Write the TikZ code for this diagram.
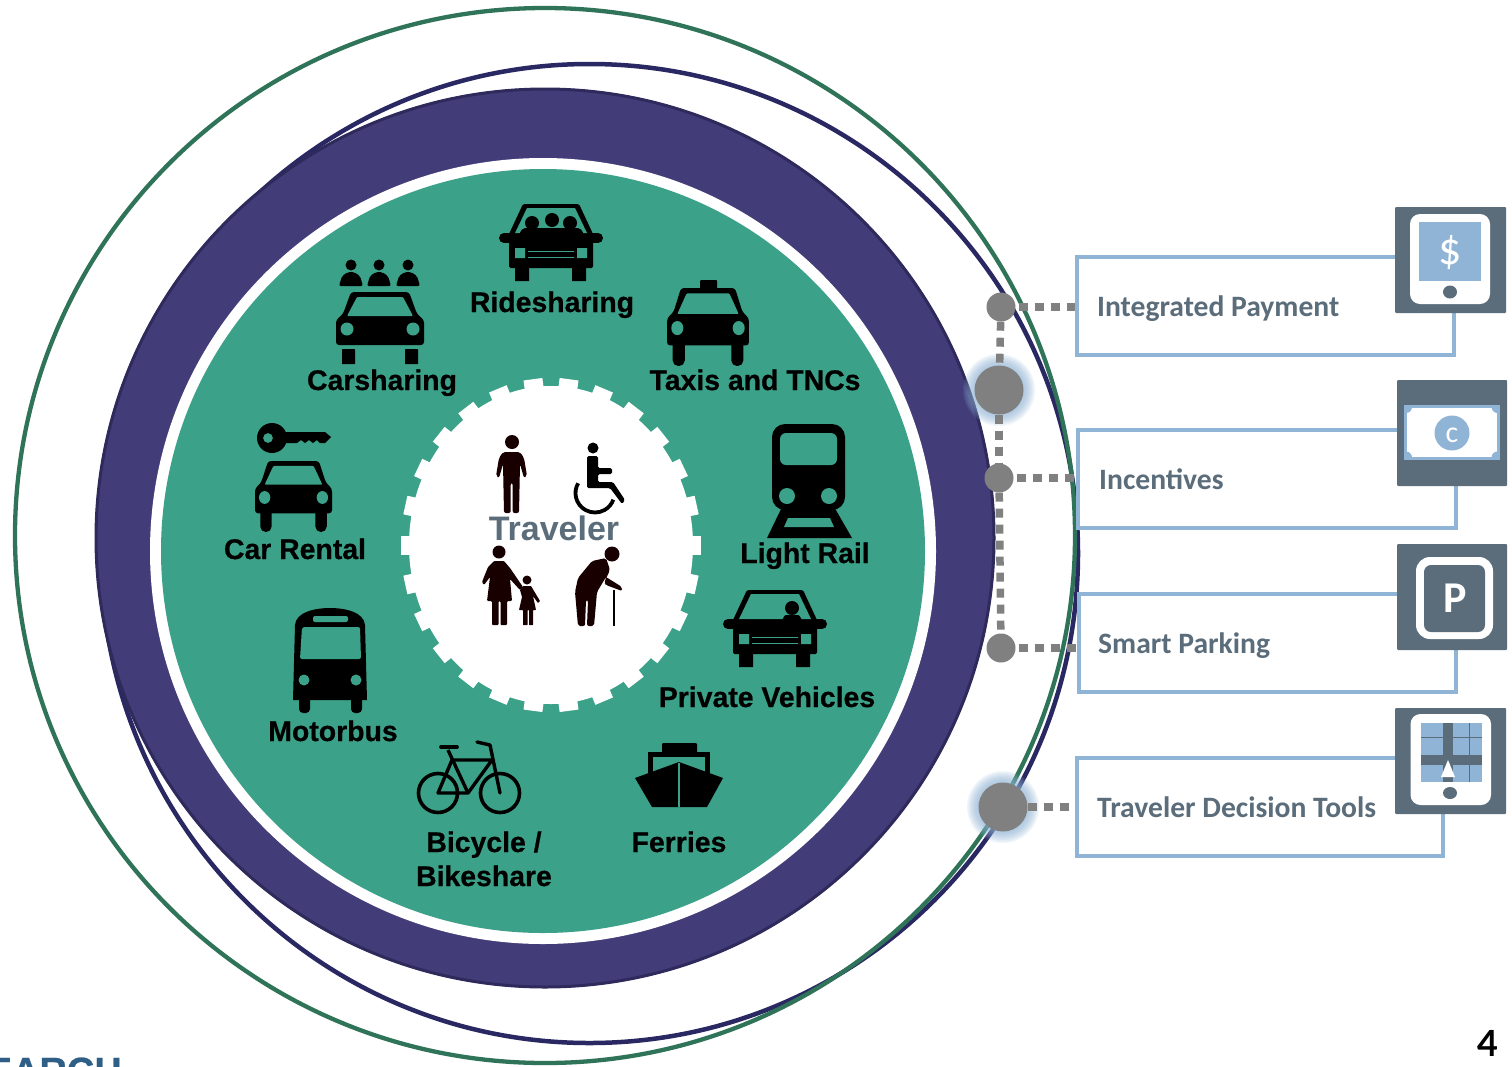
\documentclass[tikz,border=0pt]{standalone}
\usepackage{fontspec}
\setmainfont{Liberation Sans}
\newfontfamily\labfont{Liberation Sans}[BoldFeatures={FakeBold=0.6}]
\newfontfamily\boxfont{Carlito}
\newfontfamily\pagefont{Lato}
\definecolor{teal}{HTML}{3BA188}
\definecolor{purp}{HTML}{423D78}
\definecolor{purpdk}{HTML}{2E2A5C}
\definecolor{navyr}{HTML}{2A2862}
\definecolor{greenr}{HTML}{2F7458}
\definecolor{slate}{HTML}{5B6D7B}
\definecolor{skyb}{HTML}{8FB4D6}
\definecolor{dotg}{HTML}{808080}
\definecolor{logob}{HTML}{2F5F86}
\newcommand{\myCarRound}[6]{% cx, top, xscale, yscale, wheel radius, wheel top
\begin{scope}[shift={(#1,#2)},xscale=#3,yscale=#4]
 \fill[black,rounded corners=3pt] (-29,0)--(29,0)--(37,22)--(44,28)--(44,53)--(-44,53)--(-44,28)--(-37,22)--cycle;
 \fill[black,rounded corners=#5pt] (-38,#6)rectangle(-25,72);
 \fill[black,rounded corners=#5pt] (25,#6)rectangle(38,72);
 \fill[teal,rounded corners=1pt] (-23,5)--(23,5)--(33,24)--(-33,24)--cycle;
 \fill[teal] (-33,37) circle[radius=6.5] (33,37) circle[radius=6.5];
\end{scope}}
\newcommand{\myCarMirror}[2]{% cx, top ; 104 wide, 77 high
\begin{scope}[shift={(#1,#2)}]
 \fill[black,rounded corners=1.5pt] (-28,0)--(28,0)--(42,30)--(42,64)--(-42,64)--(-42,30)--cycle;
 \draw[black,line width=10pt,line cap=round] (-47,34)--(47,34);
 \fill[black] (-36,60)rectangle(-22,77) (21,60)rectangle(35,77);
 \fill[teal] (-24,4)--(24,4)--(36,29)--(-36,29)--cycle;
 \fill[teal] (-36,44)rectangle(-26,54) (26,44)rectangle(36,54);
 \draw[teal,line width=1.4pt] (-23,47.5)--(23,47.5) (-23,53.5)--(23,53.5);
\end{scope}}
\newcommand{\myBust}[2]{% head centre
\fill[black] (#1,#2) circle[radius=5.5];
\fill[black,rounded corners=2pt] ($(#1,#2)+(-12,21)$)--($(#1,#2)+(-9,11)$)--($(#1,#2)+(-3,7)$)--($(#1,#2)+(3,7)$)--($(#1,#2)+(9,11)$)--($(#1,#2)+(12,21)$)--cycle;}
\usetikzlibrary{calc}
\tikzset{
 x=1pt,y=-1pt,
 lab/.style={inner sep=0pt,anchor=base,font=\labfont\fontsize{28.4}{28.4}\selectfont\bfseries,text=black},
 boxst/.style={draw=skyb,line width=3.2pt,fill=white,rectangle,inner sep=0pt},
 boxlab/.style={inner sep=0pt,anchor=base west,font=\boxfont\fontsize{29.6}{29.6}\selectfont\bfseries,text=slate},
 iconsq/.style={fill=slate,draw=none,rectangle,rounded corners=1pt,inner sep=0pt},
 dotsm/.style={circle,fill=dotg,draw=none,minimum size=29pt,inner sep=0pt},
 dotbig/.style={circle,fill=dotg,draw=none,minimum size=49pt,inner sep=0pt},
 conn/.style={draw=dotg,line width=7.5pt,dash pattern=on 9pt off 7pt},
 glow/.style={fill=skyb,opacity=0.13},
}
\begin{document}
\begin{tikzpicture}
\useasboundingbox (0,0) rectangle (1512,1066);
\fill[white] (0,0) rectangle (1512,1066);
% big rings
\draw[navyr,line width=4.5pt] (589.5,553.5) ellipse[x radius=488.5,y radius=489.5];
\draw[greenr,line width=4.3pt] (545,535.5) ellipse[x radius=530,y radius=527.5];
\fill[purp] (545,538) circle[radius=450];
\draw[purpdk,line width=3pt] (545,538) circle[radius=449];
\fill[white] (543,551) circle[radius=393];
\fill[teal] (543,551) circle[radius=382];
% gear
\fill[white] (551,545) ellipse[x radius=142,y radius=159];
\foreach \i in {0,...,25}{
 \pgfmathsetmacro\ang{\i*360/26}
 \pgfmathsetmacro\px{551+150*cos(\ang)}
 \pgfmathsetmacro\py{545-167*sin(\ang)}
 \pgfmathsetmacro\nrm{atan2(sin(\ang)/167,cos(\ang)/150)}
 \fill[white,shift={(\px,\py)},rotate=\nrm] (-14,-9.5) rectangle (0,9.5);
}
% ---- transport icons
\myCarMirror{551}{204}
\fill[black] (532,223) circle[radius=7] (552,220) circle[radius=7] (570,223) circle[radius=7];
\fill[black,rounded corners=2pt] (519,234)--(523,228)--(580,228)--(584,234)--cycle;
\myCarMirror{775}{590}
\fill[black] (792,608) circle[radius=7];
\fill[black,rounded corners=1pt] (782,620)--(785,615)--(799,615)--(802,620)--cycle;
% carsharing
\myCarRound{380}{292}{1}{1}{0.5}{57}
\myBust{351}{265}\myBust{379}{265}\myBust{408}{265}
% car rental
\myCarRound{293.5}{461}{0.875}{0.986}{5.5}{45}
\fill[black,even odd rule] (272,438) circle[radius=15] (268,438) circle[radius=5];
\fill[black] (284,432)--(325,432)--(331,437)--(325,443)--(320,443)--(317,440)--(313,443)--(309,440)--(305,443)--(301,440)--(297,443)--(284,443)--cycle;
% taxi
\myCarRound{708}{288}{0.93}{1.083}{5.5}{45}
\fill[black,rounded corners=1pt] (700,280) rectangle (717,292);
% light rail
\fill[black] (783,505)--(833,505)--(852,538)--(767,538)--cycle;
\fill[teal] (788,518)--(830,518)--(834,527)--(784,527)--cycle;
\fill[black,rounded corners=13pt] (772,424) rectangle (845,510);
\fill[teal,rounded corners=6pt] (780,433) rectangle (837,465);
\fill[teal] (787,496) circle[radius=8] (829,496) circle[radius=8];
% motorbus
\fill[black,rounded corners=4pt] (299,695) rectangle (310,713);
\fill[black,rounded corners=4pt] (351,695) rectangle (362,713);
\fill[black] (293,700)--(295,625).. controls (296,612) and (315,608) .. (330,608).. controls (345,608) and (364,612) .. (365,625)--(367,700)--cycle;
\fill[teal,rounded corners=2pt] (302,627)--(360,627)--(361,659)--(300,659)--cycle;
\fill[teal,rounded corners=2pt] (313,616) rectangle (348,622);
\fill[teal] (304,680) circle[radius=5.5] (356,680) circle[radius=5.5];
% bicycle
\draw[black,line width=3.6pt] (438,793) circle[radius=19.5] (500,793) circle[radius=19.5];
\draw[black,line width=3.4pt,line join=round] (438,793)--(452,760)--(492,760)--(468,793)--cycle;
\draw[black,line width=3.4pt] (448,750)--(468,793);
\draw[black,line width=3.4pt,line cap=round] (490,745)--(500,793);
\draw[black,line width=3.8pt,line cap=round] (441,747)--(457,747);
\draw[black,line width=3.4pt,line cap=round] (477,742)--(490,745);
% ferry
\fill[black,rounded corners=1pt] (662,743) rectangle (697,754);
\fill[black] (648,752) rectangle (710,780);
\fill[teal] (653,757) rectangle (705,780);
\fill[black] (635,778)--(679,762)--(723,778)--(707,807)--(652,807)--cycle;
\draw[teal,line width=1.1pt] (679,763)--(679,807);
% ---- people
% man
\fill[black!90!red] (512,442) circle[radius=7];
\fill[black!90!red,rounded corners=2pt] (503,452)--(520,452)--(524,458)--(527,476)--(524,478)--(520,464)--(519,513)--(512.7,513)--(512.7,483)--(510.7,483)--(510.7,513)--(504,513)--(503,464)--(499,478)--(496,476)--(499,458)--cycle;
% wheelchair
\fill[black] (593,448) circle[radius=5.5];
\draw[black,line width=3.8pt] (595,493) ++(210:19.5) arc[start angle=210,end angle=20,radius=19.5];
\fill[black,rounded corners=1.5pt] (587,456)--(598,456)--(598,468)--(612,468)--(612,474)--(598,474)--(598,482)--(613,482)--(625,500)--(622,504)--(610,488)--(587,488)--cycle;
% mother + child
\fill[black!90!red] (499,552) circle[radius=6.5];
\fill[black!90!red,rounded corners=1pt] (494,561)--(504,561)--(510,568)--(523,587)--(520,590)--(510,579)--(512,601)--(507,601)--(507,625)--(500.5,625)--(500.5,601)--(498.5,601)--(498.5,625)--(492,625)--(492,601)--(487,601)--(490,577)--(484,585)--(482,582)--(488,567)--cycle;
\fill[black!90!red] (527,580) circle[radius=4.5];
\fill[black!90!red,rounded corners=0.5pt] (523,586)--(531,586)--(540,601)--(538,603)--(533,596)--(536,610)--(533,610)--(533,625)--(529,625)--(529,610)--(527.5,610)--(527.5,625)--(523,625)--(523,610)--(519,610)--(522,597)--(520,590)--cycle;
% elder
\fill[black!90!red] (612,554) circle[radius=7.5];
\fill[black!90!red,rounded corners=2pt] (606,558)--(592,561)--(578,578)--(575,592)--(578,626)--(585,626)--(586,600)--(588,600)--(587,626)--(594,626)--(597,592)--(606,577)--(622,587)--(622,591)--(606,585)--(604,583)--(610,570)--cycle;
\draw[black,line width=1.5pt] (614,590)--(614,626);
% ---- labels
\node[lab] (nRide) at (552,312) {Ridesharing};
\node[lab] (nCar)  at (382,390) {Carsharing};
\node[lab] (nTaxi) at (755,390) {Taxis and TNCs};
\node[lab] (nRent) at (295,559) {Car Rental};
\node[lab] (nRail) at (805,563) {Light Rail};
\node[lab] (nPriv) at (767,707) {Private Vehicles};
\node[lab] (nBus)  at (333,741) {Motorbus};
\node[lab] (nBik1) at (484,852) {Bicycle /};
\node[lab] (nBik2) at (484,886) {Bikeshare};
\node[lab] (nFerr) at (679,852) {Ferries};
\node[inner sep=0pt,font=\fontsize{34}{34}\selectfont\bfseries,text=slate] (nTrav) at (554,528) {Traveler};
% ---- right boxes
\node[boxst,minimum width=377pt,minimum height=98pt] (b1) at (1265.5,306) {};
\node[boxst,minimum width=378pt,minimum height=98pt] (b2) at (1267,479) {};
\node[boxst,minimum width=377pt,minimum height=98pt] (b3) at (1267.5,643) {};
\node[boxst,minimum width=366pt,minimum height=98pt] (b4) at (1260,807) {};
\node[boxlab] (t1) at (1097,316) {Integrated Payment};
\node[boxlab] (t2) at (1099,489) {Incentives};
\node[boxlab] (t3) at (1098,653) {Smart Parking};
\node[boxlab] (t4) at (1097,817) {Traveler Decision Tools};
% icon 1
\node[iconsq,minimum width=111pt,minimum height=106pt] (i1) at (1450.5,260) {};
\fill[white,rounded corners=10pt] (1410,214) rectangle (1490,304);
\fill[skyb] (1419,222) rectangle (1481,281);
\fill[slate] (1450,292) ellipse[x radius=7,y radius=6.5];
\node[inner sep=0pt,text=white,font=\boxfont\fontsize{46}{46}\selectfont] (s1) at (1450,253) {\$};
% icon 2
\node[iconsq,minimum width=110pt,minimum height=106pt] (i2) at (1452,433) {};
\fill[skyb] (1404,405) rectangle (1499.5,460);
\begin{scope}
\clip (1406.5,407.5) rectangle (1497,456.5);
\fill[white] (1406.5,407.5) rectangle (1497,456.5);
\fill[skyb] (1406,407) circle[radius=6] (1497.5,407) circle[radius=6] (1406,457.5) circle[radius=6] (1497.5,457.5) circle[radius=6];
\end{scope}
\fill[skyb] (1452,433) circle[radius=17.5];
\node[inner sep=0pt,text=white,font=\boxfont\fontsize{30}{30}\selectfont] (s2) at (1452,435) {c};
% icon 3
\node[iconsq,minimum width=110pt,minimum height=106pt] (i3) at (1452,597) {};
\fill[white,rounded corners=14pt] (1416,557) rectangle (1493,639);
\fill[slate,rounded corners=7pt] (1424,565) rectangle (1485,632);
\node[inner sep=0pt,text=white,font=\boxfont\fontsize{44}{44}\selectfont\bfseries] (s3) at (1455,598) {P};
% icon 4
\node[iconsq,minimum width=111pt,minimum height=106pt] (i4) at (1450.5,761) {};
\fill[white,rounded corners=10pt] (1410.5,714) rectangle (1491,805);
\fill[skyb] (1421,723) rectangle (1481.5,782);
\fill[slate] (1443,723) rectangle (1453,782);
\fill[slate] (1421,755) rectangle (1481.5,765);
\draw[slate,line width=1pt] (1421,737)--(1481.5,737) (1469,723)--(1469,782);
\fill[white] (1448,760)--(1455,777)--(1441,777)--cycle;
\fill[slate] (1450,793) ellipse[x radius=7,y radius=6];
% ---- glows
\foreach \r in {36,34.5,33,31.5,30,28.5,27,25.5}{
 \fill[glow] (999,390) circle[radius=\r];
 \fill[glow] (1003,807) circle[radius=\r];
}
% ---- dots and connectors
\node[dotsm]  (d1) at (1001,307) {};
\node[dotbig] (d2) at (999,390)  {};
\node[dotsm]  (d3) at (999,478)  {};
\node[dotsm]  (d4) at (1001,648) {};
\node[dotbig] (d5) at (1003,807) {};
\draw[conn] (d1) -- (d2);
\draw[conn] (d2) -- (d3);
\draw[conn] (d3) -- (d4);
\draw[conn] (d1.east) ++(3,0) -- (d1 -| b1.west);
\draw[conn] (d3.east) ++(3,0) -- (d3 -| b2.west);
\draw[conn] (d4.east) ++(3,0) -- (d4 -| b3.west);
\draw[conn] (d5.east) -- (d5 -| b4.west);
% ---- page number, cut logo
\node[inner sep=0pt,font=\pagefont\fontsize{36}{36}\selectfont\bfseries,text=black] (pg) at (1488,1043) {4};
\begin{scope}
\clip (0,0) rectangle (1512,1066);
\node[inner sep=0pt,anchor=base east,font=\labfont\fontsize{38}{38}\selectfont\bfseries,text=logob] (lg) at (122,1084) {EARCH};
\end{scope}
\end{tikzpicture}
\end{document}
